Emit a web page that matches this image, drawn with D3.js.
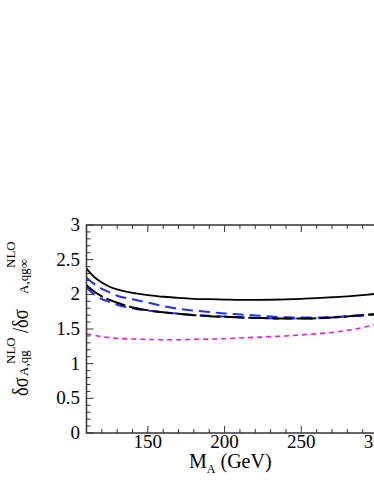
<!DOCTYPE html>
<html lang="en">
<head>
  <meta charset="UTF-8">
  <title>NLO ratio vs M_A</title>
  <script src="https://d3js.org/d3.v7.min.js"></script>
  <style>
    body { margin: 0; padding: 0; background: #fff; }
    svg { display: block; }
    svg text { font-family: "Liberation Serif", "Times New Roman", "DejaVu Serif", serif; }
  </style>
</head>
<body>
  <div id="chart"></div>
  <script>
    // masses in GeV
    const masses = [110, 115, 120, 125, 130, 140, 150, 160, 170, 180, 190, 200,
                    210, 220, 230, 240, 250, 260, 270, 280, 290, 300];

    const blackSolid = [2.37, 2.25, 2.17, 2.11, 2.07, 2.02, 1.99, 1.965, 1.95, 1.935, 1.93, 1.925,
                        1.92, 1.92, 1.922, 1.927, 1.935, 1.945, 1.958, 1.972, 1.99, 2.01];
    const blackDashed = [2.13, 2.04, 1.97, 1.92, 1.88, 1.81, 1.77, 1.74, 1.72, 1.70, 1.685, 1.675,
                         1.665, 1.66, 1.655, 1.65, 1.65, 1.655, 1.665, 1.68, 1.70, 1.72];
    const blueUpper = [2.24, 2.15, 2.08, 2.03, 1.98, 1.93, 1.88, 1.83, 1.79, 1.765, 1.745, 1.725,
                       1.71, 1.695, 1.68, 1.67, 1.665, 1.665, 1.67, 1.685, 1.70, 1.72];
    const blueLower = [2.10, 2.00, 1.93, 1.89, 1.85, 1.80, 1.765, 1.74, 1.72, 1.70, 1.69, 1.68,
                       1.67, 1.66, 1.655, 1.65, 1.65, 1.655, 1.665, 1.68, 1.695, 1.715];
    const magenta = [1.43, 1.41, 1.39, 1.375, 1.365, 1.355, 1.35, 1.345, 1.345, 1.35, 1.355, 1.36,
                     1.37, 1.38, 1.39, 1.40, 1.415, 1.43, 1.45, 1.48, 1.52, 1.575];

    const xMajor = [150, 200, 250, 300];
    const yMajor = [0, 0.5, 1, 1.5, 2, 2.5, 3];

    const width = 374, height = 484;
    const plotLeft = 86.5, plotRight = 378, plotTop = 225, plotBottom = 433;

    const svg = d3.select("#chart").append("svg")
      .attr("width", width)
      .attr("height", height);

    const x = d3.scaleLinear().domain([110, 300]).range([plotLeft, plotRight]);
    const y = d3.scaleLinear().domain([0, 3]).range([plotBottom, plotTop]);

    const series = [
      { values: magenta, color: "#e020e0", width: 1.6, dash: "5,4" },
      { values: blueUpper, color: "#1f2fff", width: 2, dash: "11,6" },
      { values: blueLower, color: "#1f2fff", width: 2, dash: "11,6" },
      { values: blackDashed, color: "#000", width: 2, dash: "20,4" },
      { values: blackSolid, color: "#000", width: 1.8, dash: null }
    ];

    const line = d3.line()
      .x(d => x(d[0]))
      .y(d => y(d[1]))
      .curve(d3.curveMonotoneX);

    series.forEach(s => {
      svg.append("path")
        .datum(masses.map((m, i) => [m, s.values[i]]))
        .attr("d", line)
        .attr("fill", "none")
        .attr("stroke", s.color)
        .attr("stroke-width", s.width)
        .attr("stroke-dasharray", s.dash);
    });

    // frame
    const axisColor = "#333";
    svg.append("rect")
      .attr("x", plotLeft).attr("y", plotTop)
      .attr("width", plotRight - plotLeft).attr("height", plotBottom - plotTop)
      .attr("fill", "none").attr("stroke", axisColor).attr("stroke-width", 1.5);

    // x ticks (bottom + top, inward)
    const xMinor = d3.range(110, 301, 10);
    xMinor.forEach(v => {
      const len = xMajor.includes(v) ? 7 : 4;
      svg.append("line").attr("x1", x(v)).attr("x2", x(v))
        .attr("y1", plotBottom).attr("y2", plotBottom - len)
        .attr("stroke", axisColor).attr("stroke-width", 1);
      svg.append("line").attr("x1", x(v)).attr("x2", x(v))
        .attr("y1", plotTop).attr("y2", plotTop + len)
        .attr("stroke", axisColor).attr("stroke-width", 1);
    });

    // y ticks (left, inward)
    const yMinor = d3.range(0, 30.1, 1).map(d => d / 10);
    yMinor.forEach(v => {
      const len = Math.abs(v * 2 - Math.round(v * 2)) < 1e-6 ? 7 : 4;
      svg.append("line").attr("x1", plotLeft).attr("x2", plotLeft + len)
        .attr("y1", y(v)).attr("y2", y(v))
        .attr("stroke", axisColor).attr("stroke-width", 1);
    });

    svg.selectAll(".xl").data(xMajor).join("text")
      .attr("x", d => x(d)).attr("y", 448)
      .attr("text-anchor", "middle")
      .attr("font-size", 19)
      .text(d => d);

    svg.selectAll(".yl").data(yMajor).join("text")
      .attr("x", 80).attr("y", d => y(d) + 6)
      .attr("text-anchor", "end")
      .attr("font-size", 19)
      .text(d => d);

    // x title
    const xt = svg.append("text").attr("x", 189).attr("y", 468).attr("font-size", 20);
    xt.append("tspan").text("M");
    xt.append("tspan").attr("font-size", 12).attr("dy", 5).text("A");
    xt.append("tspan").attr("dy", -5).text(" (GeV)");

    // y title, pieces placed along the rotated baseline
    const ylab = svg.append("g");
    const pieces = [
      { t: "δσ", pos: 396, base: 28, size: 23, sx: 0.8 },
      { t: "A,qg", pos: 376, base: 28, size: 13, sx: 1 },
      { t: "NLO", pos: 364, base: 15, size: 13, sx: 1 },
      { t: "/δσ", pos: 333, base: 28, size: 23, sx: 0.8 },
      { t: "A,qg∞", pos: 294, base: 28, size: 13, sx: 1 },
      { t: "NLO", pos: 268, base: 15, size: 13, sx: 1 }
    ];
    pieces.forEach(p => {
      ylab.append("text")
        .attr("transform", `translate(${p.base},${p.pos}) rotate(-90) scale(${p.sx},1)`)
        .attr("font-size", p.size)
        .text(p.t);
    });
  </script>
</body>
</html>
